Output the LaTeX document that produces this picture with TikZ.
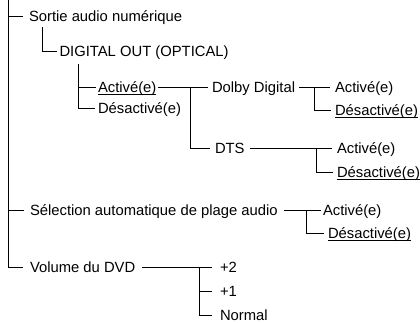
\documentclass[tikz,border=0pt]{standalone}
\usepackage{fontspec}
\setmainfont{Liberation Sans}
\newcommand{\myul}[1]{\setbox0\hbox{#1}\rlap{\rule[-2pt]{\wd0}{0.7pt}}\box0}
\begin{document}
\begin{tikzpicture}[x=1pt,y=-1pt, line width=0.9pt,
 lbl/.style={inner sep=0pt, outer xsep=#1, text height=10.6pt, text depth=0pt, anchor=text, yshift=-5.3pt, font=\fontsize{14.8}{16}\selectfont},
 lbl/.default=3pt]
\useasboundingbox (0,0) rectangle (420,322);
\node[lbl=6pt] (sortie) at (29,16) {Sortie audio numérique};
\node[lbl=3pt] (digital) at (59.5,51) {DIGITAL OUT (OPTICAL)};
\node[lbl=2pt] (act1) at (98,87) {\myul{Activé(e)}};
\node[lbl=3pt] (des1) at (98,108.5) {Désactivé(e)};
\node[lbl=4pt] (dolby) at (212,87) {Dolby Digital};
\node[lbl=5pt] (dact) at (335,87) {Activé(e)};
\node[lbl=4pt] (ddes) at (335,110.5) {\myul{Désactivé(e)}};
\node[lbl=5pt] (dts) at (215,148) {DTS};
\node[lbl=5pt] (tact) at (337,148) {Activé(e)};
\node[lbl=4pt] (tdes) at (337,172) {\myul{Désactivé(e)}};
\node[lbl=6pt] (sel) at (30,210) {Sélection automatique de plage audio};
\node[lbl=2pt] (sact) at (323,210) {Activé(e)};
\node[lbl=4pt] (sdes) at (328,233) {\myul{Désactivé(e)}};
\node[lbl=7pt] (vol) at (30,267) {Volume du DVD};
\node[lbl=8pt] (p2) at (220,267) {+2};
\node[lbl=8pt] (p1) at (220,291.5) {+1};
\node[lbl=8pt] (pn) at (220,315) {Normal};
\coordinate (root) at (8,0);
\coordinate (c1) at (42.3,27);
\coordinate (c2) at (78.3,64);
\coordinate (c3) at (190.5,87);
\coordinate (c4) at (314,87);
\coordinate (c5) at (316,148);
\coordinate (c6) at (306,210);
\coordinate (c7) at (199,267);
\draw (root) |- (vol.west);
\draw (root |- sortie.west) -- (sortie.west);
\draw (root |- sel.west) -- (sel.west);
\draw (c1) |- (digital.west);
\draw (c2) |- (act1.west);
\draw (c2) |- (des1.west);
\draw (act1.east) -- (dolby.west);
\draw (c3) |- (dts.west);
\draw (dolby.east) -- (dact.west);
\draw (c4) |- (ddes.west);
\draw (dts.east) -- (tact.west);
\draw (c5) |- (tdes.west);
\draw (sel.east) -- (sact.west);
\draw (c6) |- (sdes.west);
\draw (vol.east) -- (p2.west);
\draw (c7) |- (p1.west);
\draw (c7) |- (pn.west);
\end{tikzpicture}
\end{document}
